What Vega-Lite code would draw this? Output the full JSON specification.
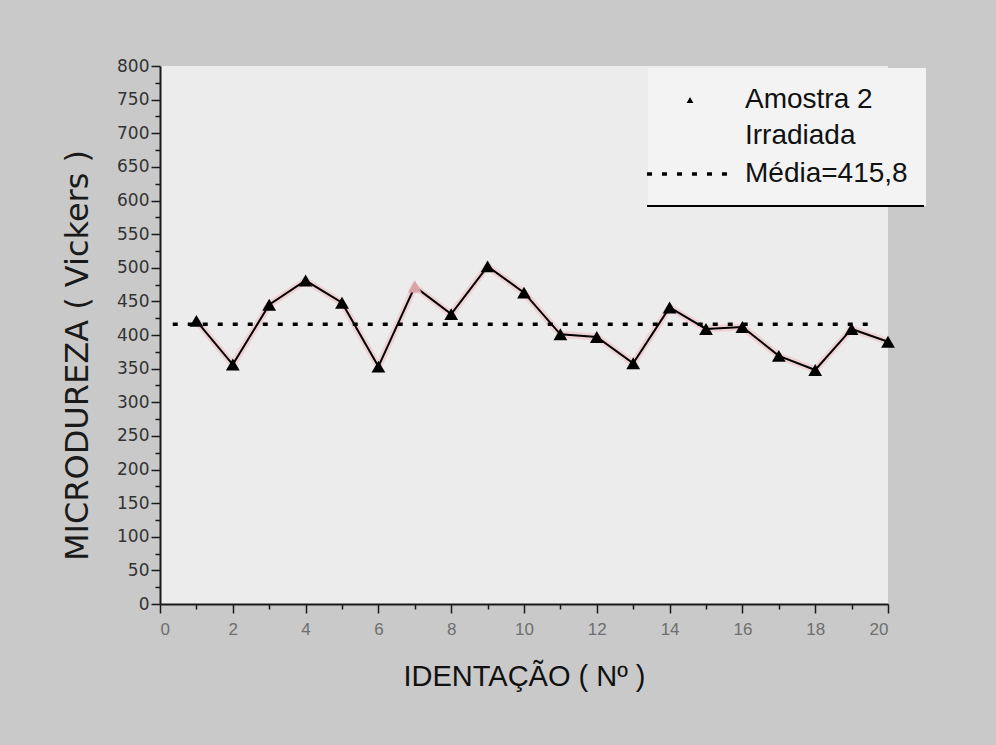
{
  "$schema": "https://vega.github.io/schema/vega-lite/v6.json",
  "width": 728,
  "height": 538,
  "autosize": {"type": "none"},
  "padding": {"left": 160, "top": 66, "right": 108, "bottom": 141},
  "background": "#c9c9c9",
  "config": {
    "view": {"stroke": null, "fill": "#ececec"},
    "font": "Liberation Sans",
    "axis": {"grid": false, "domainColor": "#1a1a1a", "domainWidth": 2, "tickColor": "#1a1a1a", "tickWidth": 1.5}
  },
  "datasets": {
    "pts": [
      {"n": 1, "v": 421}, {"n": 2, "v": 356}, {"n": 3, "v": 445}, {"n": 4, "v": 481},
      {"n": 5, "v": 448}, {"n": 6, "v": 353}, {"n": 7, "v": 472}, {"n": 8, "v": 431},
      {"n": 9, "v": 502}, {"n": 10, "v": 463}, {"n": 11, "v": 401}, {"n": 12, "v": 397},
      {"n": 13, "v": 358}, {"n": 14, "v": 441}, {"n": 15, "v": 409}, {"n": 16, "v": 412},
      {"n": 17, "v": 369}, {"n": 18, "v": 348}, {"n": 19, "v": 409}, {"n": 20, "v": 390}
    ],
    "mean": [{"n": 0.35, "v": 415.8}, {"n": 19.7, "v": 415.8}]
  },
  "encoding": {
    "x": {
      "field": "n", "type": "quantitative",
      "scale": {"domain": [0, 20], "nice": false, "zero": false},
      "axis": {
        "title": "IDENTAÇÃO ( Nº )",
        "values": [0,1,2,3,4,5,6,7,8,9,10,11,12,13,14,15,16,17,18,19,20],
        "labelExpr": "datum.value % 2 === 0 ? datum.label : ''",
        "tickSize": {"condition": {"test": "datum.value % 2 === 0", "value": 9}, "value": 5},
        "labelFont": "Liberation Sans", "labelFontSize": 17, "labelColor": "#6e6e6e", "labelPadding": 8,
        "titleFont": "Liberation Sans", "titleFontSize": 29, "titleFontWeight": "normal", "titleColor": "#111", "titlePadding": 25
      }
    },
    "y": {
      "field": "v", "type": "quantitative",
      "scale": {"domain": [0, 800], "nice": false},
      "axis": {
        "title": "MICRODUREZA ( Vickers )",
        "values": [0,25,50,75,100,125,150,175,200,225,250,275,300,325,350,375,400,425,450,475,500,525,550,575,600,625,650,675,700,725,750,775,800],
        "labelExpr": "datum.value % 50 === 0 ? datum.label : ''",
        "tickSize": {"condition": {"test": "datum.value % 50 === 0", "value": 9}, "value": 5},
        "labelFont": "DejaVu Sans", "labelFontSize": 17, "labelColor": "#333", "labelPadding": 2,
        "titleFont": "DejaVu Sans", "titleFontSize": 32, "titleFontWeight": "normal", "titleColor": "#1a1a1a", "titlePadding": 22,
        "titleY": 289
      }
    }
  },
  "layer": [
    {
      "data": {"name": "pts"},
      "mark": {"type": "line", "stroke": "#f2c2c6", "strokeWidth": 7, "opacity": 0.6},
      "encoding": {}
    },
    {
      "data": {"name": "pts"},
      "mark": {"type": "line", "stroke": "black", "strokeWidth": 2},
      "encoding": {}
    },
    {
      "data": {"name": "mean"},
      "mark": {"type": "line", "strokeWidth": 3.5, "strokeDash": [5, 10], "strokeCap": "butt"},
      "encoding": {
        "color": {
          "datum": "Média=415,8",
          "scale": {"domain": ["Amostra 2 Irradiada", "Média=415,8"], "range": ["black", "black"]},
          "legend": {
            "orient": "none", "legendX": 488, "legendY": 2,
            "title": null,
            "fillColor": "#f3f3f3",
            "padding": 18,
            "symbolSize": 7569,
            "symbolType": "stroke",
            "labelFont": "Liberation Sans", "labelFontSize": 28, "labelColor": "#111",
            "labelOffset": 51, "rowPadding": 10, "labelLimit": 400,
            "labelExpr": "datum.label === 'Amostra 2 Irradiada' ? ['Amostra 2', 'Irradiada'] : datum.label",
            "encode": {
              "symbols": {"update": {
                "x": {"value": 24},
                "shape": {"signal": "datum.value === 'Média=415,8' ? 'stroke' : 'triangle-up'"},
                "size": {"signal": "datum.value === 'Média=415,8' ? 7400 : 45"},
                "strokeDash": {"signal": "datum.value === 'Média=415,8' ? [5, 10] : [1, 0]"},
                "strokeWidth": {"signal": "datum.value === 'Média=415,8' ? 3.5 : 0"},
                "fill": {"value": "black"},
                "stroke": {"value": "black"},
                "opacity": {"value": 1}
              }},
              "labels": {"update": {"lineHeight": {"value": 36}}},
              "legend": {"update": {
                "stroke": {"value": "black"},
                "strokeWidth": {"value": 2},
                "strokeDash": {"value": [0, 418, 277, 1000]}
              }}
            }
          }
        }
      }
    },
    {
      "data": {"name": "pts"},
      "mark": {"type": "point", "shape": "triangle-up", "filled": true, "size": 190, "opacity": 1, "strokeWidth": 0},
      "encoding": {
        "color": {"datum": "Amostra 2 Irradiada"},
        "fill": {"condition": {"test": "datum.n === 7", "value": "#d9a3a7"}, "value": "black"}
      }
    }
  ]
}
